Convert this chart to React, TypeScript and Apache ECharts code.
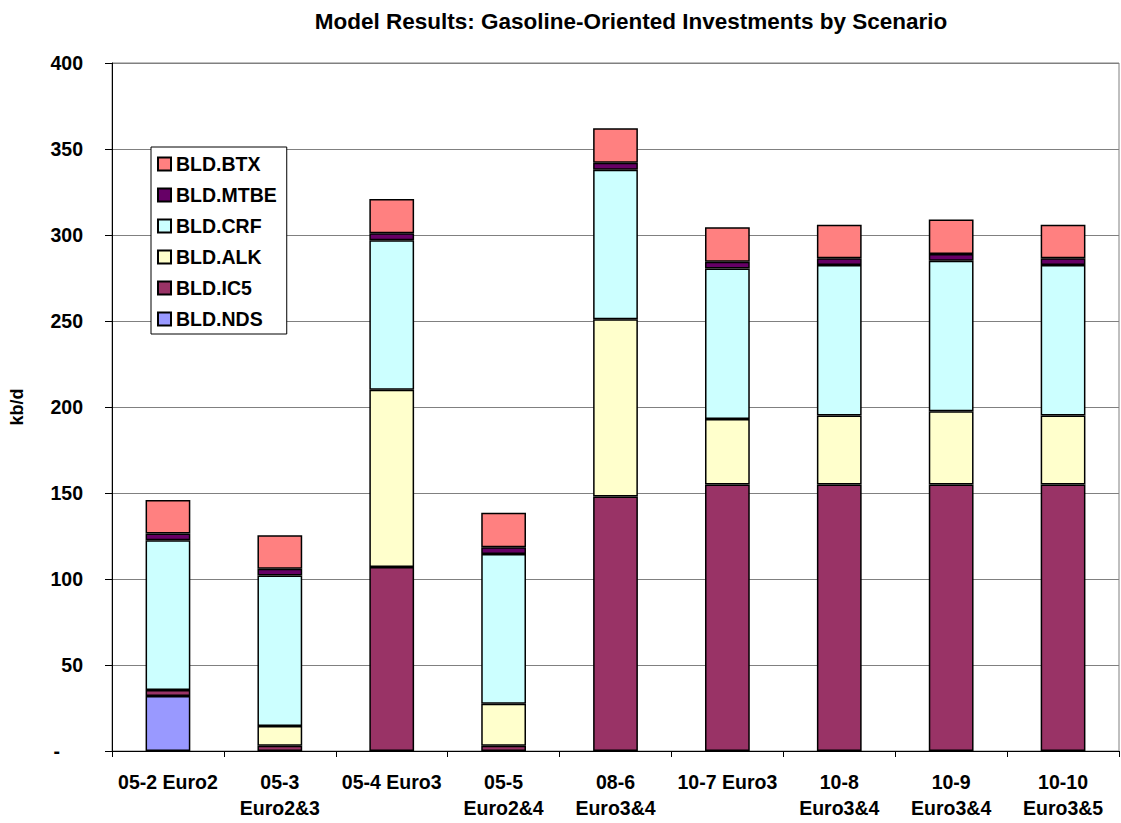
import React, { useEffect, useRef } from "react";
import * as echarts from "echarts";

const categories = [
  "05-2 Euro2",
  "05-3\nEuro2&3",
  "05-4 Euro3",
  "05-5\nEuro2&4",
  "08-6\nEuro3&4",
  "10-7 Euro3",
  "10-8\nEuro3&4",
  "10-9\nEuro3&4",
  "10-10\nEuro3&5",
];

const nds = [32, null, null, null, null, null, null, null, null];
const ic5 = [3.5, 3, 107, 3, 148, 155, 155, 155, 155];
const alk = [null, 11.5, 103, 24.5, 103, 38, 40, 42.5, 40];
const crf = [87, 87.5, 87, 87, 87, 87.5, 87.5, 87.5, 87.5];
const mtbe = [4, 4, 4, 4, 4, 4, 4, 4, 4];
const btx = [19.5, 19.5, 20, 20, 20, 20, 19.5, 20, 19.5];

const yTicks = [0, 50, 100, 150, 200, 250, 300, 350, 400];

const seriesDefs = [
  { name: "BLD.NDS", data: nds, color: "#9999FF" },
  { name: "BLD.IC5", data: ic5, color: "#993366" },
  { name: "BLD.ALK", data: alk, color: "#FFFFCC" },
  { name: "BLD.CRF", data: crf, color: "#CCFFFF" },
  { name: "BLD.MTBE", data: mtbe, color: "#660066" },
  { name: "BLD.BTX", data: btx, color: "#FF8080" },
];

const FONT = "Liberation Sans, Arial, sans-serif";

export default function App() {
  const ref = useRef<HTMLDivElement>(null);

  useEffect(() => {
    if (!ref.current) return;
    const chart = echarts.init(ref.current, null, { renderer: "svg" });
    chart.setOption({
      animation: false,
      backgroundColor: "#ffffff",
      title: {
        text: "Model Results: Gasoline-Oriented Investments by Scenario",
        left: 626,
        top: 5,
        textAlign: "center",
        textStyle: { fontFamily: FONT, fontSize: 22.5, fontWeight: "bold", color: "#000" },
      },
      legend: {
        orient: "vertical",
        left: 151,
        top: 147,
        data: [...seriesDefs].reverse().map((s) => s.name),
        icon: "rect",
        itemWidth: 13,
        itemHeight: 13,
        itemGap: 11,
        padding: [7, 10, 5, 6],
        borderColor: "#000",
        borderWidth: 1,
        backgroundColor: "#fff",
        textStyle: { fontFamily: FONT, fontSize: 19.5, fontWeight: "bold", color: "#000", lineHeight: 20 },
      },
      grid: {
        left: 107,
        right: 2,
        top: 63,
        bottom: 72,
        show: true,
        borderColor: "#808080",
        borderWidth: 1,
      },
      xAxis: {
        type: "category",
        data: categories,
        axisLine: { lineStyle: { color: "#000", width: 1 } },
        axisTick: { show: true, length: 6, lineStyle: { color: "#000" } },
        axisLabel: {
          fontFamily: FONT,
          fontSize: 19.5,
          fontWeight: "bold",
          color: "#000",
          lineHeight: 26,
          margin: 18,
          interval: 0,
        },
      },
      yAxis: {
        type: "value",
        min: yTicks[0],
        max: yTicks[yTicks.length - 1],
        interval: 50,
        name: "kb/d",
        nameLocation: "middle",
        nameGap: 86,
        nameRotate: 90,
        nameTextStyle: { fontFamily: FONT, fontSize: 18, fontWeight: "bold", color: "#000" },
        axisLine: { show: true, lineStyle: { color: "#000", width: 1 } },
        axisTick: { show: true, length: 7, lineStyle: { color: "#000" } },
        splitLine: { show: true, lineStyle: { color: "#808080", width: 1 } },
        axisLabel: {
          fontFamily: FONT,
          fontSize: 19.5,
          fontWeight: "bold",
          color: "#000",
          margin: 29,
          formatter: (v: number) => (v === 0 ? "{d|-}" : String(v)),
          rich: {
            d: { fontFamily: FONT, fontSize: 19.5, fontWeight: "bold", color: "#000", padding: [0, 23, 0, 0] },
          },
        },
      },
      series: seriesDefs.map((s) => ({
        name: s.name,
        type: "bar",
        stack: "total",
        barWidth: "40%",
        data: s.data,
        itemStyle: { color: s.color, borderColor: "#000", borderWidth: 1.5 },
      })),
    });
    return () => chart.dispose();
  }, []);

  return (
    <div
      ref={ref}
      style={{ position: "fixed", left: 0, top: 0, width: 1121, height: 823, background: "#fff" }}
    />
  );
}
